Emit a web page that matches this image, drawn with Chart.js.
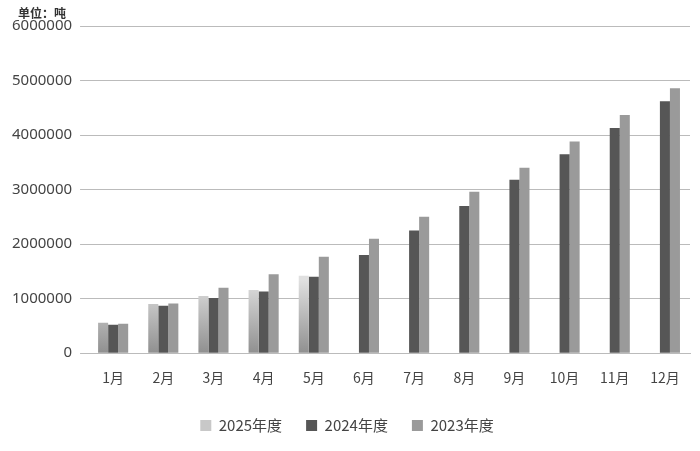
<!DOCTYPE html>
<html><head><meta charset="utf-8">
<script src="https://cdn.jsdelivr.net/npm/chart.js@4"></script>
<style>body{margin:0;background:#fff}#wrap{position:relative;width:700px;height:451px}
#unit{position:absolute;left:18px;top:4px;font:bold 12px "Noto Sans CJK SC";color:#333}</style>
</head><body><div id="wrap"><div id="unit">单位：吨</div><canvas id="c" width="700" height="451"></canvas></div>
<script>
const months = ['1月','2月','3月','4月','5月','6月','7月','8月','9月','10月','11月','12月'];
const y2025 = [560000, 900000, 1050000, 1160000, 1420000, null, null, null, null, null, null, null];
const y2024 = [520000, 870000, 1010000, 1130000, 1400000, 1800000, 2250000, 2700000, 3180000, 3650000, 4130000, 4620000];
const y2023 = [540000, 910000, 1200000, 1450000, 1770000, 2100000, 2500000, 2960000, 3400000, 3880000, 4370000, 4860000];

const ctx = document.getElementById('c').getContext('2d');
const grad = ctx.createLinearGradient(0, 360, 0, 280);
grad.addColorStop(0, '#888');
grad.addColorStop(1, '#e0e0e0');

new Chart(ctx, {
  type: 'bar',
  data: {
    labels: months,
    datasets: [
      {label: '2025年度', data: y2025, backgroundColor: grad},
      {label: '2024年度', data: y2024, backgroundColor: '#565656'},
      {label: '2023年度', data: y2023, backgroundColor: '#9a9a9a'}
    ]
  },
  options: {
    responsive: false,
    animation: false,
    layout: {padding: {top: 26, right: 10, left: 4, bottom: 8}},
    datasets: {bar: {categoryPercentage: 0.6, barPercentage: 1}},
    plugins: {
      legend: {position: 'bottom', labels: {boxWidth: 11, boxHeight: 11, color: '#444', font: {family: 'Noto Sans CJK SC', size: 15}, padding: 24,
        generateLabels: chart => Chart.defaults.plugins.legend.labels.generateLabels(chart).map((l, i) => {
          if (i === 0) l.fillStyle = '#c8c8c8'; return l; })}}
    },
    scales: {
      x: {grid: {display: false}, border: {color: '#bbb'}, ticks: {color: '#444', padding: 8, font: {family: 'Noto Sans CJK SC', size: 14}}},
      y: {min: 0, max: 6000000, ticks: {stepSize: 1000000, color: '#444', font: {family: 'Noto Sans', size: 15}, padding: 8,
            callback: v => String(v)},
          grid: {color: '#bbb'}, border: {display: false}}
    }
  }
});
</script></body></html>
